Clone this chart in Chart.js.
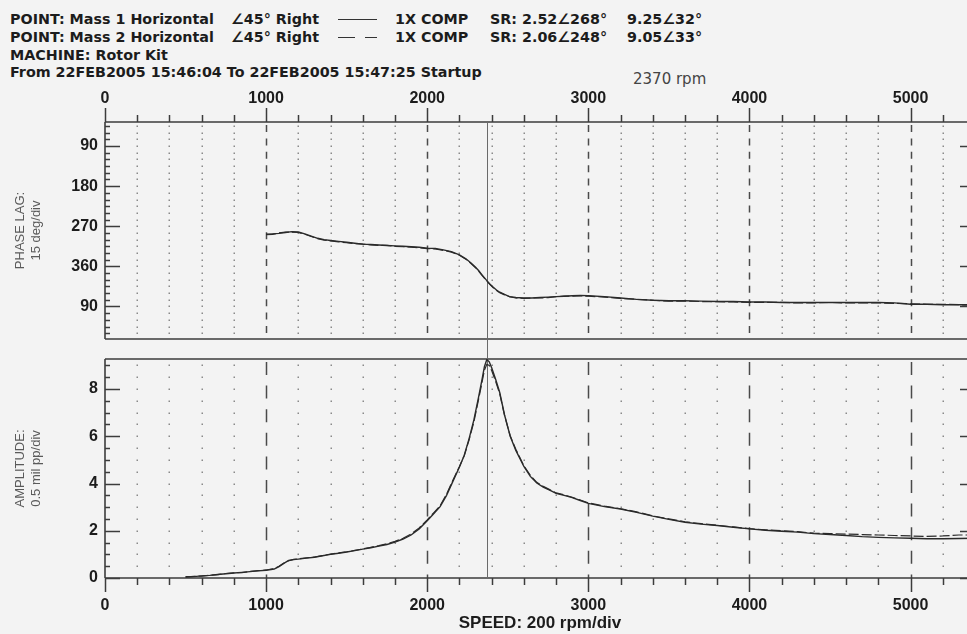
<!DOCTYPE html>
<html>
<head>
<meta charset="utf-8">
<script src="https://cdn.jsdelivr.net/npm/chart.js@4.4.1/dist/chart.umd.min.js"></script>
<style>
  html, body { margin: 0; padding: 0; overflow: hidden; background: #f3f3f3; }
  #page { position: relative; width: 967px; height: 634px; overflow: hidden; font-family: "DejaVu Sans", sans-serif; color: #1c1c1c; }
  .t { position: absolute; white-space: nowrap; font-size: 14.3px; font-weight: bold; line-height: 18px; }
  .r { font-weight: normal; font-size: 15px; color: #444; }
  .ln { position: absolute; height: 0; border-top: 1.5px solid #333; }
  canvas { position: absolute; left: 0; }
</style>
</head>
<body>
<div id="page">
  <div class="t" style="left:10px;top:10px">POINT: Mass 1 Horizontal</div>
  <div class="t" style="left:231px;top:10px">∠45° Right</div>
  <div class="ln" style="left:338px;top:19px;width:39px"></div>
  <div class="t" style="left:395px;top:10px">1X COMP</div>
  <div class="t" style="left:490px;top:10px">SR: 2.52∠268°</div>
  <div class="t" style="left:627px;top:10px">9.25∠32°</div>

  <div class="t" style="left:10px;top:28px">POINT: Mass 2 Horizontal</div>
  <div class="t" style="left:231px;top:28px">∠45° Right</div>
  <div class="ln" style="left:338px;top:37px;width:17px"></div>
  <div class="ln" style="left:365px;top:37px;width:12px"></div>
  <div class="t" style="left:395px;top:28px">1X COMP</div>
  <div class="t" style="left:490px;top:28px">SR: 2.06∠248°</div>
  <div class="t" style="left:627px;top:28px">9.05∠33°</div>

  <div class="t" style="left:10px;top:46px">MACHINE: Rotor Kit</div>
  <div class="t" style="left:10px;top:63px">From 22FEB2005 15:46:04 To 22FEB2005 15:47:25 Startup</div>
  <div class="t r" style="left:633px;top:70px">2370 rpm</div>

  <canvas id="phaseChart" width="980" height="261" style="top:88px"></canvas>
  <canvas id="ampChart" width="980" height="285" style="top:349px"></canvas>
</div>
<script>
// speed axis
const speedTicks = [0, 1000, 2000, 3000, 4000, 5000];
const speedMinor = [0, 200, 400, 600, 800, 1000, 1200, 1400, 1600, 1800, 2000, 2200, 2400, 2600, 2800,
  3000, 3200, 3400, 3600, 3800, 4000, 4200, 4400, 4600, 4800, 5000, 5200, 5400];
const cursorRpm = 2370;

// phase lag axis (deg, wraps past 360)
const phaseTicks = [90, 180, 270, 360, 450];
const phaseTickLabels = ['90', '180', '270', '360', '90'];
const phaseMinor = [45, 60, 75, 90, 105, 120, 135, 150, 165, 180, 195, 210, 225, 240, 255, 270, 285, 300,
  315, 330, 345, 360, 375, 390, 405, 420, 435, 450, 465, 480, 495, 510];

// amplitude axis (mil pp)
const ampTicks = [0, 2, 4, 6, 8];
const ampMinor = [0, 0.5, 1, 1.5, 2, 2.5, 3, 3.5, 4, 4.5, 5, 5.5, 6, 6.5, 7, 7.5, 8, 8.5, 9];

const phaseRpm = [1000, 1040, 1080, 1120, 1160, 1200, 1240, 1280, 1320, 1360, 1400, 1450, 1500, 1550, 1600,
  1650, 1700, 1750, 1800, 1850, 1900, 1950, 2000, 2050, 2100, 2150, 2200, 2240, 2270, 2300, 2320, 2340,
  2370, 2390, 2410, 2430, 2450, 2480, 2510, 2550, 2600, 2650, 2700, 2750, 2800, 2850, 2900, 2950, 3000,
  3100, 3200, 3300, 3400, 3500, 3600, 3700, 3800, 3900, 4000, 4100, 4200, 4300, 4400, 4500, 4600, 4700,
  4800, 4900, 5000, 5100, 5200, 5300, 5400];
const phaseMass1 = [288, 287, 286, 284, 282, 283, 287, 292, 297, 300, 302, 304, 306, 308, 310,
  311, 312, 313, 314, 315, 316, 317, 319, 320, 323, 327, 334, 343, 352, 362, 370, 379,
  392, 400, 407, 413, 418, 423, 428, 430, 431, 431, 430, 429, 428, 427, 426, 425, 426,
  428, 431, 434, 436, 437, 437, 438, 439, 439, 440, 440, 441, 441, 441, 441, 441, 441,
  441, 442, 445, 445, 446, 446, 446];
const phaseMass2 = [289, 288, 285, 283, 283, 284, 288, 293, 298, 301, 303, 305, 307, 309, 310,
  312, 313, 313, 315, 316, 317, 318, 320, 321, 324, 328, 335, 344, 353, 363, 371, 380,
  393, 401, 408, 414, 419, 424, 428, 431, 432, 431, 431, 430, 428, 427, 427, 426, 427,
  429, 432, 434, 436, 438, 438, 439, 439, 440, 441, 441, 441, 442, 442, 441, 442, 442,
  442, 443, 444, 445, 445, 446, 447];

const ampRpm = [500, 550, 600, 650, 700, 750, 800, 850, 900, 950, 1000, 1050, 1080, 1110, 1140, 1170, 1200,
  1250, 1300, 1350, 1400, 1450, 1500, 1550, 1600, 1650, 1700, 1750, 1800, 1850, 1900, 1950, 2000, 2040,
  2080, 2120, 2160, 2200, 2230, 2260, 2290, 2320, 2340, 2355, 2370, 2385, 2400, 2425, 2450, 2480, 2515,
  2550, 2600, 2640, 2680, 2720, 2760, 2800, 2850, 2900, 2950, 3000, 3100, 3200, 3300, 3400, 3500, 3600,
  3700, 3800, 3900, 4000, 4100, 4200, 4300, 4400, 4500, 4600, 4700, 4800, 4900, 5000, 5100, 5200, 5300, 5400];
const ampMass1 = [0.05, 0.06, 0.09, 0.11, 0.15, 0.18, 0.21, 0.24, 0.27, 0.30, 0.33, 0.38, 0.48, 0.62, 0.74, 0.78, 0.80,
  0.84, 0.88, 0.94, 1.00, 1.05, 1.10, 1.16, 1.22, 1.28, 1.35, 1.42, 1.52, 1.65, 1.82, 2.08, 2.42, 2.72,
  3.02, 3.50, 4.10, 4.70, 5.20, 5.90, 6.70, 7.70, 8.40, 8.95, 9.25, 9.15, 8.90, 8.40, 7.85, 6.90, 6.00,
  5.40, 4.72, 4.30, 4.02, 3.85, 3.72, 3.58, 3.50, 3.40, 3.28, 3.16, 3.02, 2.92, 2.78, 2.62, 2.48, 2.36,
  2.28, 2.22, 2.15, 2.08, 2.02, 1.98, 1.94, 1.88, 1.84, 1.80, 1.75, 1.72, 1.70, 1.68, 1.66, 1.66, 1.67, 1.68];
const ampMass2 = [0.04, 0.07, 0.08, 0.12, 0.14, 0.19, 0.22, 0.23, 0.28, 0.31, 0.34, 0.40, 0.50, 0.63, 0.73, 0.79, 0.81,
  0.85, 0.89, 0.95, 1.01, 1.06, 1.11, 1.17, 1.23, 1.30, 1.37, 1.45, 1.55, 1.68, 1.86, 2.12, 2.46, 2.76,
  3.06, 3.55, 4.15, 4.72, 5.18, 5.85, 6.62, 7.60, 8.28, 8.80, 9.05, 9.00, 8.78, 8.32, 7.80, 6.88, 6.02,
  5.45, 4.75, 4.35, 4.05, 3.88, 3.74, 3.60, 3.52, 3.42, 3.30, 3.18, 3.04, 2.93, 2.80, 2.63, 2.50, 2.38,
  2.30, 2.23, 2.16, 2.09, 2.04, 2.00, 1.96, 1.90, 1.88, 1.86, 1.84, 1.82, 1.80, 1.78, 1.76, 1.78, 1.82, 1.82];

const ink = '#2a2a2a';
const frame = '#3c3c3c';

function pts(xs, ys) {
  return xs.map((v, i) => ({ x: v, y: ys[i] }));
}

// grid, frame, tick marks and cursor drawn through the chart's scales
const bodeGrid = {
  id: 'bodeGrid',
  beforeDatasetsDraw(chart, args, opts) {
    const { ctx, chartArea: a, scales: { x, y } } = chart;
    ctx.save();
    // dotted minor grid
    ctx.fillStyle = '#8a8a8a';
    speedMinor.forEach(v => {
      if (v % 1000 === 0) return;
      const px = Math.round(x.getPixelForValue(v));
      opts.yMinor.forEach(w => {
        const py = Math.round(y.getPixelForValue(w));
        if (py > a.top + 1 && py < a.bottom - 1) ctx.fillRect(px - 0.5, py - 0.5, 1.5, 1.5);
      });
    });
    // dashed major grid
    ctx.strokeStyle = '#4a4a4a';
    ctx.lineWidth = 1.5;
    ctx.setLineDash(opts.dash);
    speedTicks.forEach(v => {
      if (v === 0) return;
      const px = Math.round(x.getPixelForValue(v)) + 0.5;
      ctx.beginPath();
      ctx.moveTo(px, a.top + 3);
      ctx.lineTo(px, a.bottom);
      ctx.stroke();
    });
    ctx.setLineDash([]);
    // frame
    ctx.strokeStyle = frame;
    ctx.lineWidth = 1.6;
    ctx.beginPath();
    ctx.moveTo(a.left, a.top); ctx.lineTo(a.right, a.top);
    ctx.moveTo(a.left, a.bottom); ctx.lineTo(a.right, a.bottom);
    ctx.moveTo(a.left, a.top); ctx.lineTo(a.left, a.bottom);
    ctx.moveTo(a.right, a.top); ctx.lineTo(a.right, a.bottom);
    ctx.stroke();
    // speed tick marks (outside)
    const edge = opts.ticksUp ? a.top : a.bottom;
    const dir = opts.ticksUp ? -1 : 1;
    ctx.lineWidth = 1.5;
    ctx.beginPath();
    speedMinor.forEach(v => {
      const px = Math.round(x.getPixelForValue(v)) + 0.5;
      const len = v % 1000 === 0 ? 14 : 7;
      ctx.moveTo(px, edge);
      ctx.lineTo(px, edge + dir * len);
    });
    // vertical-axis tick marks (inside, both sides)
    opts.yMinor.forEach(w => {
      const py = Math.round(y.getPixelForValue(w)) + 0.5;
      const len = opts.yMajor.includes(w) ? 15 : 5;
      ctx.moveTo(a.left, py); ctx.lineTo(a.left + len, py);
      ctx.moveTo(a.right, py); ctx.lineTo(a.right - len, py);
    });
    ctx.stroke();
    // rpm cursor
    const cx = Math.round(x.getPixelForValue(cursorRpm)) + 0.5;
    ctx.strokeStyle = '#6a6a6a';
    ctx.lineWidth = 1;
    ctx.beginPath();
    ctx.moveTo(cx, opts.ticksUp ? a.top : 0);
    ctx.lineTo(cx, opts.ticksUp ? chart.height : a.bottom);
    ctx.stroke();
    ctx.restore();
  }
};

const tickFont = { family: '"Liberation Sans", Arial, sans-serif', size: 16, weight: 'bold' };
const titleFont = { family: '"Liberation Sans", Arial, sans-serif', size: 13 };

function noPad(s) {
  s.paddingTop = 0; s.paddingBottom = 0; s.paddingLeft = 0; s.paddingRight = 0;
}

function speedScale(position, pad, showTitle) {
  return {
    type: 'linear',
    position: position,
    min: 0,
    max: 5400,
    afterBuildTicks: s => { s.ticks = speedMinor.map(v => ({ value: v })); },
    afterFit: s => { s.height = position === 'top' ? 34 : 56; noPad(s); },
    grid: { display: false, drawTicks: false },
    border: { display: false },
    ticks: {
      autoSkip: false, maxRotation: 0, padding: pad, color: '#1c1c1c', font: tickFont,
      callback: v => speedTicks.includes(v) ? String(v) : ''
    },
    title: showTitle ? {
      display: true, text: 'SPEED: 200 rpm/div', color: '#1c1c1c',
      font: { family: '"Liberation Sans", Arial, sans-serif', size: 17, weight: 'bold' },
      padding: { top: 0, bottom: 0 }
    } : { display: false }
  };
}

Chart.defaults.animation = false;

new Chart(document.getElementById('phaseChart'), {
  type: 'line',
  data: {
    datasets: [
      { label: 'Mass 1 Horizontal', data: pts(phaseRpm, phaseMass1), borderColor: ink, borderWidth: 1.4, pointRadius: 0 },
      { label: 'Mass 2 Horizontal', data: pts(phaseRpm, phaseMass2), borderColor: ink, borderWidth: 1.2, borderDash: [10, 3], pointRadius: 0 }
    ]
  },
  options: {
    responsive: false,
    devicePixelRatio: 1,
    layout: { padding: { left: 0, right: 5, top: 0, bottom: 10 } },
    plugins: {
      legend: { display: false },
      tooltip: { enabled: false },
      bodeGrid: { yMinor: phaseMinor, yMajor: phaseTicks, dash: [7, 6.4], ticksUp: true }
    },
    scales: {
      x: speedScale('top', 14, false),
      y: {
        type: 'linear',
        reverse: true,
        min: 36,
        max: 523,
        afterBuildTicks: s => { s.ticks = phaseMinor.map(v => ({ value: v })); },
        afterFit: s => { s.width = 105; noPad(s); },
        grid: { display: false, drawTicks: false },
        border: { display: false },
        ticks: {
          autoSkip: false, padding: 7, color: '#1c1c1c', font: tickFont,
          callback: v => { const i = phaseTicks.indexOf(v); return i >= 0 ? phaseTickLabels[i] : ''; }
        },
        title: { display: true, text: ['PHASE LAG:', '15 deg/div'], color: '#5a5a5a', font: titleFont, padding: { top: 13, bottom: 0 } }
      }
    }
  },
  plugins: [bodeGrid]
});

new Chart(document.getElementById('ampChart'), {
  type: 'line',
  data: {
    datasets: [
      { label: 'Mass 1 Horizontal', data: pts(ampRpm, ampMass1), borderColor: ink, borderWidth: 1.4, pointRadius: 0 },
      { label: 'Mass 2 Horizontal', data: pts(ampRpm, ampMass2), borderColor: ink, borderWidth: 1.2, borderDash: [10, 3], pointRadius: 0 }
    ]
  },
  options: {
    responsive: false,
    devicePixelRatio: 1,
    layout: { padding: { left: 0, right: 5, top: 10, bottom: 0 } },
    plugins: {
      legend: { display: false },
      tooltip: { enabled: false },
      bodeGrid: { yMinor: ampMinor, yMajor: ampTicks, dash: [13, 10.6], ticksUp: false }
    },
    scales: {
      x: speedScale('bottom', 18, true),
      y: {
        type: 'linear',
        min: 0,
        max: 9.27,
        afterBuildTicks: s => { s.ticks = ampMinor.map(v => ({ value: v })); },
        afterFit: s => { s.width = 105; noPad(s); },
        grid: { display: false, drawTicks: false },
        border: { display: false },
        ticks: {
          autoSkip: false, padding: 7, color: '#1c1c1c', font: tickFont,
          callback: v => ampTicks.includes(v) ? String(v) : ''
        },
        title: { display: true, text: ['AMPLITUDE:', '0.5 mil pp/div'], color: '#5a5a5a', font: titleFont, padding: { top: 13, bottom: 0 } }
      }
    }
  },
  plugins: [bodeGrid]
});
</script>
</body>
</html>
